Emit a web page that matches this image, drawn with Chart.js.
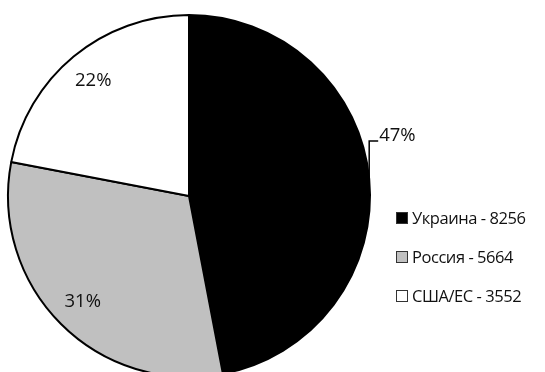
<!DOCTYPE html>
<html>
<head>
<meta charset="utf-8">
<script src="https://cdn.jsdelivr.net/npm/chart.js@4"></script>
<style>
    html, body { margin: 0; padding: 0; background: #fff; overflow: hidden; }
    #wrap { position: relative; width: 545px; height: 392px; }
    #legend {
        position: absolute; left: 396px; top: 198px;
        font-family: "Open Sans", sans-serif; font-size: 16.5px; letter-spacing: -0.45px; color: #111;
    }
    #legend .row { display: flex; align-items: center; height: 39px; white-space: nowrap; }
    #legend .box {
        width: 10px; height: 10px; border: 1px solid #333; margin-right: 4px; box-sizing: content-box;
    }
</style>
</head>
<body>
<div id="wrap">
    <canvas id="pieChart" width="545" height="392"></canvas>
    <div id="legend"></div>
</div>
<script>
// Regions and their counts
const regions = ['Украина', 'Россия', 'США/ЕС'];
const counts = [8256, 5664, 3552];
// Share of each region, percent (as printed on the slices)
const shares = [47, 31, 22];
const sliceColors = ['#000000', '#c0c0c0', '#ffffff'];

// Legend built from the same arrays
const legend = document.getElementById('legend');
regions.forEach((name, i) => {
    const row = document.createElement('div');
    row.className = 'row';
    row.innerHTML = `<span class="box" style="background:${sliceColors[i]}"></span><span>${name} - ${counts[i]}</span>`;
    legend.appendChild(row);
});

// Percent labels: inside for small slices, outside with a leader line for the big one
const pctLabels = {
    id: 'pctLabels',
    afterDatasetsDraw(chart) {
        const ctx = chart.ctx;
        const arcs = chart.getDatasetMeta(0).data;
        ctx.save();
        ctx.font = '18.5px "Open Sans", sans-serif';
        ctx.fillStyle = '#111';
        ctx.textBaseline = 'middle';
        arcs.forEach((arc, i) => {
            const mid = (arc.startAngle + arc.endAngle) / 2;
            const text = shares[i] + '%';
            if (i === 0) {
                const ex = arc.x + Math.cos(mid) * arc.outerRadius;
                const ey = arc.y + Math.sin(mid) * arc.outerRadius;
                const ly = ey - 38;
                ctx.strokeStyle = '#000';
                ctx.lineWidth = 1.5;
                ctx.beginPath();
                ctx.moveTo(ex, ey);
                ctx.lineTo(ex, ly);
                ctx.lineTo(ex + 9, ly);
                ctx.stroke();
                ctx.textAlign = 'left';
                ctx.fillText(text, ex + 10, ly - 5);
            } else {
                const r = arc.outerRadius * 0.83;
                ctx.textAlign = 'center';
                ctx.fillText(text, arc.x + Math.cos(mid) * r, arc.y + Math.sin(mid) * r);
            }
        });
        ctx.restore();
    }
};

new Chart(document.getElementById('pieChart'), {
    type: 'pie',
    data: {
        labels: regions,
        datasets: [{
            data: shares,
            backgroundColor: sliceColors,
            borderColor: '#000',
            borderWidth: 2,
            radius: 181
        }]
    },
    options: {
        responsive: false,
        animation: false,
        layout: { padding: { left: 0, top: 0, right: 167, bottom: 0 } },
        plugins: {
            legend: { display: false },
            tooltip: { enabled: false }
        }
    },
    plugins: [pctLabels]
});
</script>
</body>
</html>
